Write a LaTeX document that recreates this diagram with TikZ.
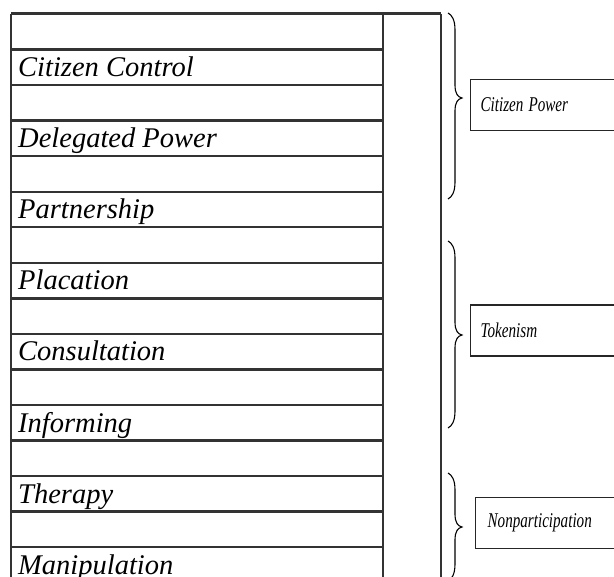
\documentclass[tikz,border=0pt]{standalone}
\usepackage{fontspec}
\setmainfont{Liberation Serif}
\newfontfamily\itfont{Liberation Serif Italic}
\newcommand{\narrow}[1]{\scalebox{0.72}[1]{#1}}
\begin{document}
\begin{tikzpicture}[x=1pt,y=-1pt,
  rung/.style={draw=black!80, line width=2.4pt},
  post/.style={draw=black!80, line width=1.3pt},
  rowtext/.style={anchor=base west, inner sep=0pt, font=\itfont\fontsize{28.5}{30}\selectfont},
  grouplabel/.style={draw=black!85, line width=1.3pt, minimum height=51pt, anchor=west, inner xsep=10pt, text width=200pt, align=left, font=\itfont\fontsize{21}{23}\selectfont},
  bracepath/.style={draw=black, line width=1.1pt}]
\useasboundingbox (0,0) rectangle (614,577);
\clip (0,0) rectangle (614,577);
\fill[white] (0,0) rectangle (614,577);
% posts
\coordinate (lt) at (11,14); \coordinate (lb) at (11,577);
\coordinate (mt) at (383,14); \coordinate (mb) at (383,577);
\coordinate (rt) at (441,14); \coordinate (rb) at (441,577);
\draw[post] (lt) -- (lb);
\draw[post] (mt) -- (mb);
\draw[post] (rt) -- (rb);
\draw[rung, line width=3pt] (lt) -- (rt);
% rungs
\foreach \k in {1,...,15} {
  \coordinate (a\k) at (11,{14+35.55*\k});
  \coordinate (b\k) at (383,{14+35.55*\k});
  \draw[rung] (a\k) -- (b\k);
}
% row labels
\foreach \k/\t in {2/Citizen Control,4/Delegated Power,6/Partnership,8/Placation,10/Consultation,12/Informing,14/Therapy,16/Manipulation} {
  \node[rowtext] (r\k) at (18,{14+35.55*\k-8.5}) {\t};
}
% braces
\foreach \n/\top/\tip/\bot in {1/13/98/199, 2/241/335/428, 3/473/527/581} {
  \draw[bracepath] (448,\top) .. controls (452,\top+2) and (455,\top+7) .. (455,\top+17)
    -- (455,\tip-13) .. controls (455,\tip-4) and (458,\tip-1) .. (462,\tip)
    .. controls (458,\tip+1) and (455,\tip+4) .. (455,\tip+13)
    -- (455,\bot-17) .. controls (455,\bot-7) and (452,\bot-2) .. (448,\bot);
  \coordinate (tip\n) at (462,\tip);
}
% group labels
\node[grouplabel] (g1) at (470,105) {\narrow{Citizen Power}};
\node[grouplabel] (g2) at (470,330.5) {\narrow{Tokenism}};
\node[grouplabel, inner xsep=12pt] (g3) at (475,523) {\narrow{Nonparticipation}};
\end{tikzpicture}
\end{document}
